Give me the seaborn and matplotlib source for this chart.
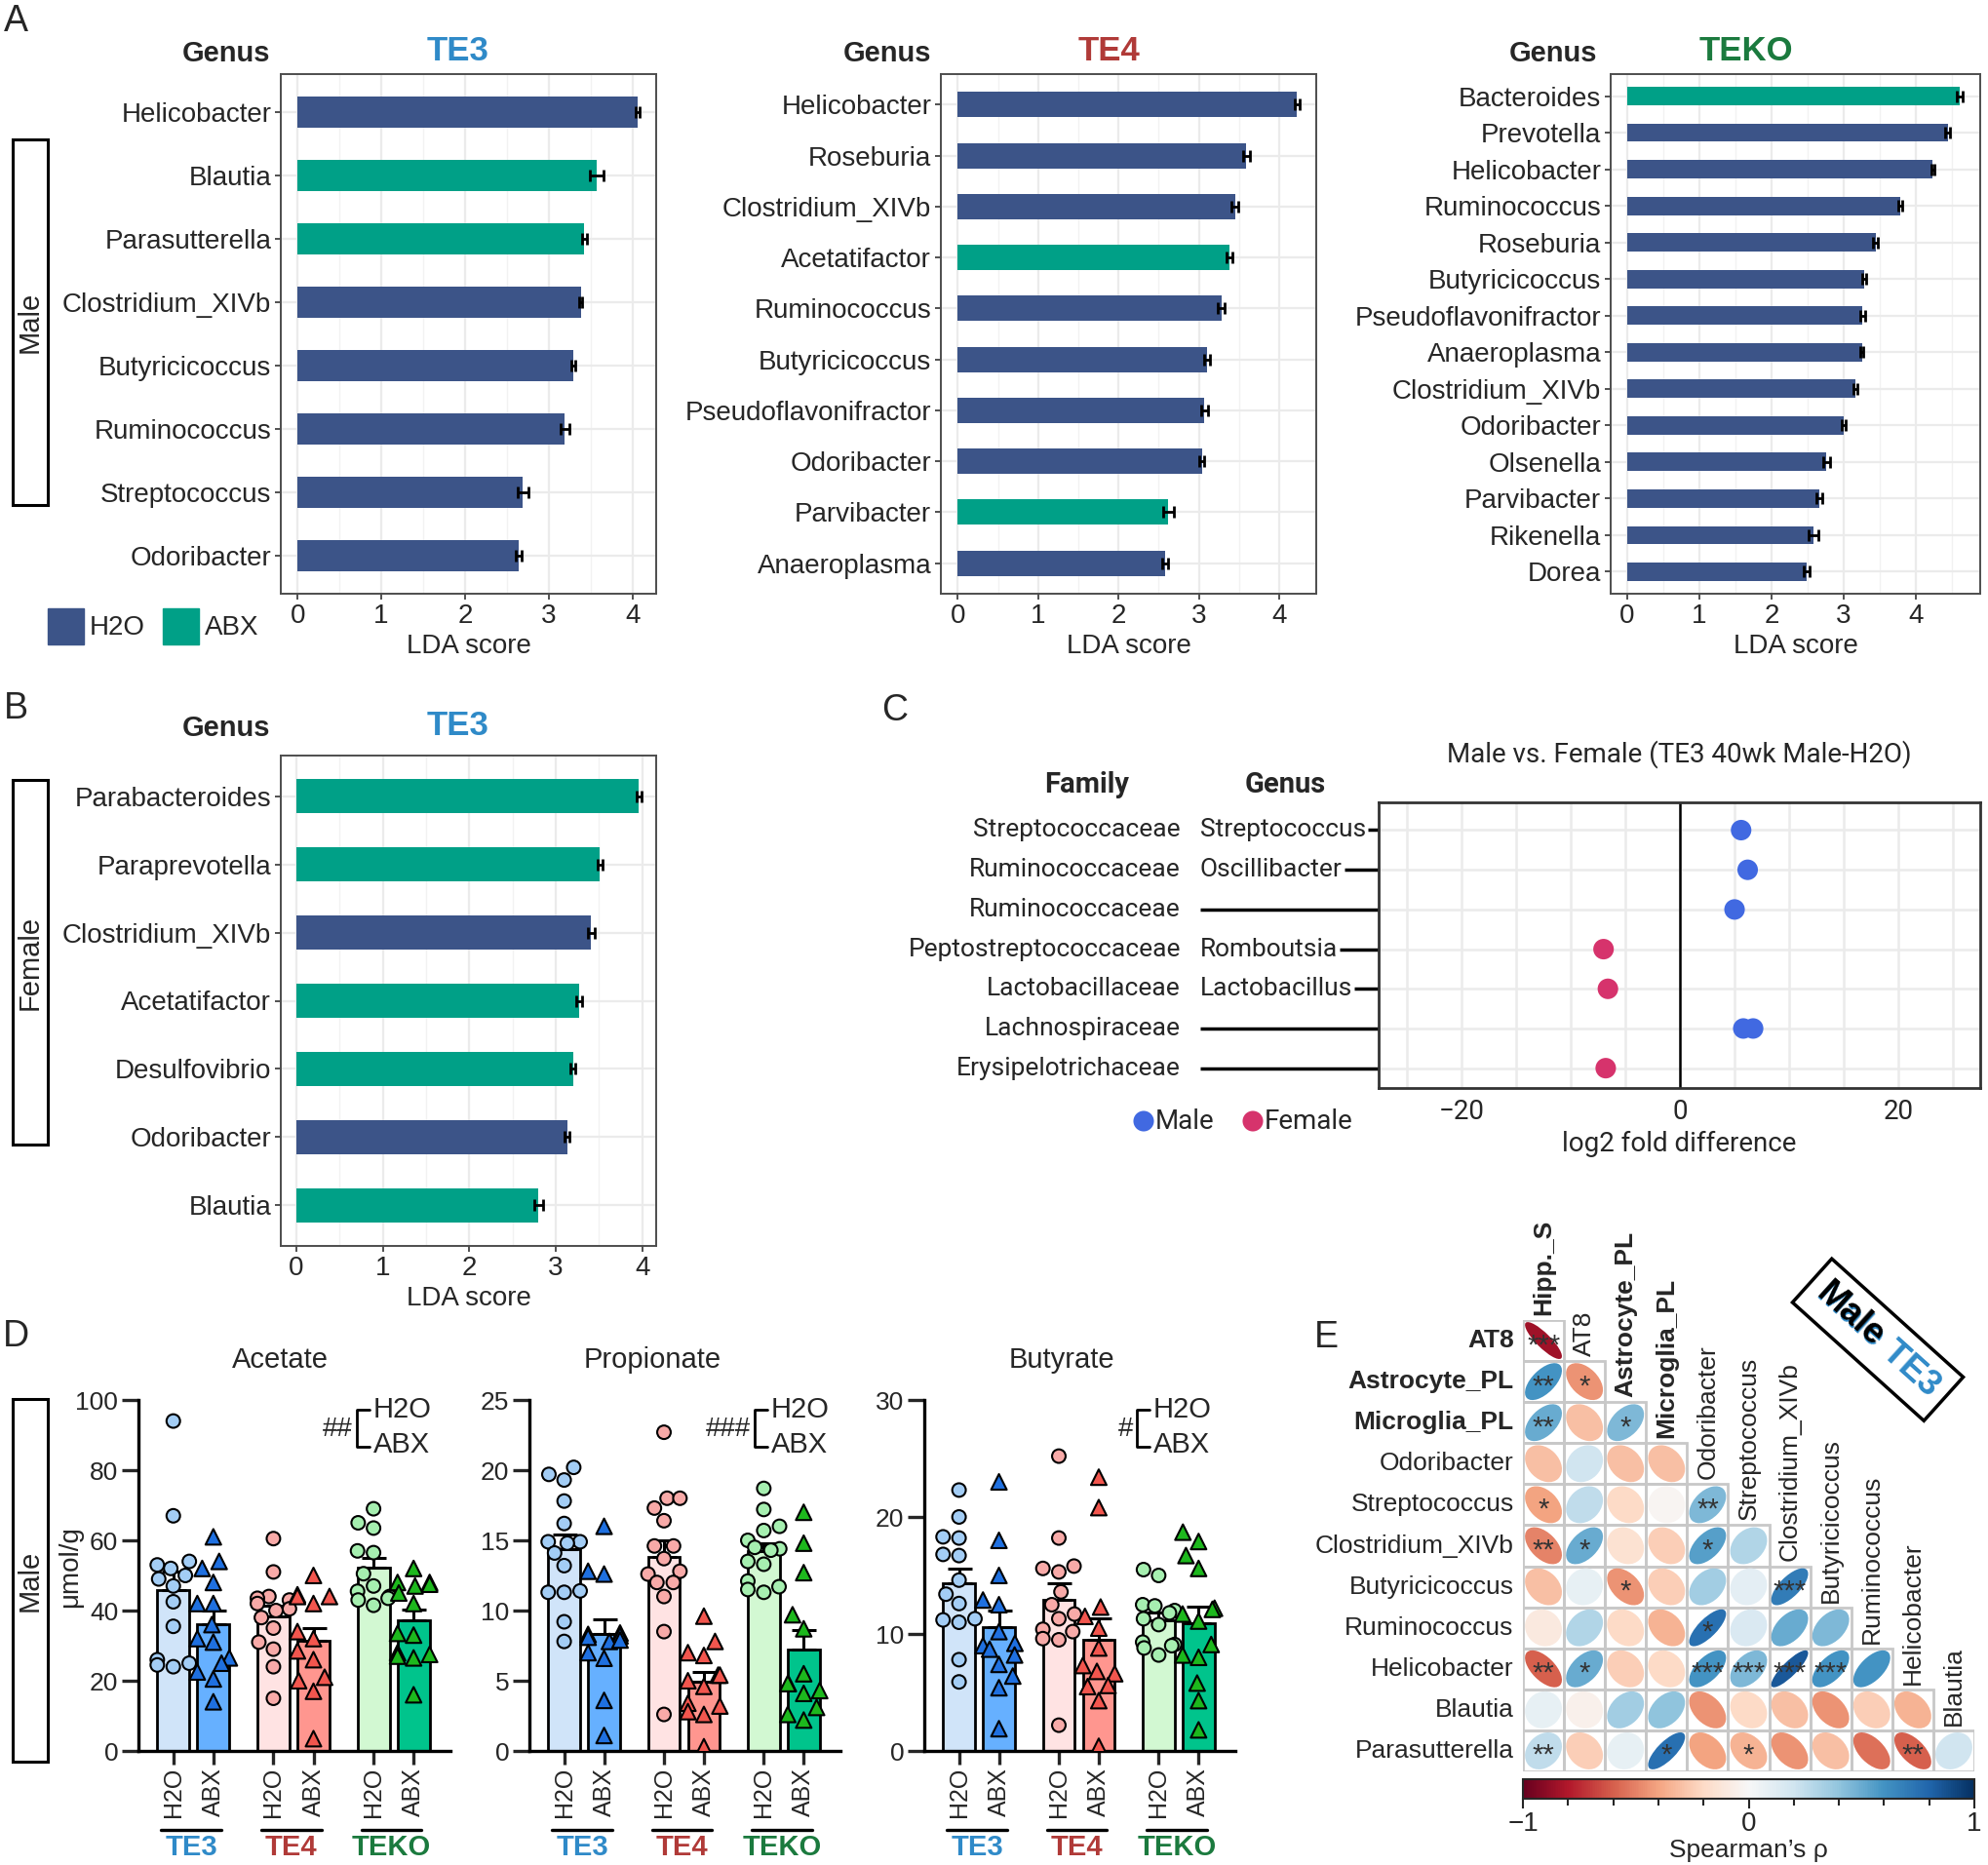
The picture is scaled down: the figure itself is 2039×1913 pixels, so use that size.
import numpy as np
import pandas as pd
import seaborn as sns
import matplotlib.pyplot as plt
from matplotlib.patches import Rectangle, Ellipse
from matplotlib.colors import Normalize
from matplotlib.cm import ScalarMappable
from matplotlib.ticker import MultipleLocator
from matplotlib.transforms import blended_transform_factory

# ---------------- A / B : LEfSe LDA scores ----------------
te3_genus = ["Helicobacter", "Blautia", "Parasutterella", "Clostridium_XIVb",
             "Butyricicoccus", "Ruminococcus", "Streptococcus", "Odoribacter"]
te3_lda = [4.06, 3.57, 3.42, 3.38, 3.29, 3.19, 2.69, 2.64]
te3_err = [0.02, 0.08, 0.03, 0.02, 0.02, 0.05, 0.06, 0.04]
te3_grp = ["H2O", "ABX", "ABX", "H2O", "H2O", "H2O", "H2O", "H2O"]

te4_genus = ["Helicobacter", "Roseburia", "Clostridium_XIVb", "Acetatifactor", "Ruminococcus",
             "Butyricicoccus", "Pseudoflavonifractor", "Odoribacter", "Parvibacter", "Anaeroplasma"]
te4_lda = [4.22, 3.59, 3.45, 3.38, 3.28, 3.10, 3.07, 3.04, 2.62, 2.58]
te4_err = [0.03, 0.04, 0.04, 0.04, 0.04, 0.04, 0.04, 0.03, 0.07, 0.04]
te4_grp = ["H2O", "H2O", "H2O", "ABX", "H2O", "H2O", "H2O", "H2O", "ABX", "H2O"]

teko_genus = ["Bacteroides", "Prevotella", "Helicobacter", "Ruminococcus", "Roseburia",
              "Butyricicoccus", "Pseudoflavonifractor", "Anaeroplasma", "Clostridium_XIVb",
              "Odoribacter", "Olsenella", "Parvibacter", "Rikenella", "Dorea"]
teko_lda = [4.61, 4.44, 4.23, 3.78, 3.44, 3.28, 3.26, 3.25, 3.16, 3.00, 2.76, 2.66, 2.58, 2.49]
teko_err = [0.04, 0.03, 0.02, 0.03, 0.03, 0.03, 0.03, 0.02, 0.03, 0.03, 0.05, 0.04, 0.07, 0.04]
teko_grp = ["ABX"] + ["H2O"] * 13

fem_genus = ["Parabacteroides", "Paraprevotella", "Clostridium_XIVb", "Acetatifactor",
             "Desulfovibrio", "Odoribacter", "Blautia"]
fem_lda = [3.96, 3.51, 3.41, 3.27, 3.20, 3.13, 2.80]
fem_err = [0.03, 0.03, 0.04, 0.03, 0.03, 0.03, 0.05]
fem_grp = ["ABX", "ABX", "H2O", "ABX", "ABX", "H2O", "ABX"]

# ---------------- C : male vs female ----------------
c_family = ["Streptococcaceae", "Ruminococcaceae", "Ruminococcaceae", "Peptostreptococcaceae",
            "Lactobacillaceae", "Lachnospiraceae", "Erysipelotrichaceae"]
c_genus = ["Streptococcus", "Oscillibacter", "", "Romboutsia", "Lactobacillus", "", ""]
c_row = [0, 1, 2, 3, 4, 5, 5, 6]
c_lfc = [5.6, 6.2, 5.0, -7.0, -6.6, 5.8, 6.7, -6.8]
c_sex = ["Male", "Male", "Male", "Female", "Female", "Male", "Male", "Female"]

# ---------------- D : SCFA (umol/g) ----------------
d_groups = ["TE3 H2O", "TE3 ABX", "TE4 H2O", "TE4 ABX", "TEKO H2O", "TEKO ABX"]
ace = [
    [94, 67, 54, 53, 52, 50, 49, 47, 42.5, 35.5, 26, 25, 24, 24.5],
    [61, 54, 52, 48, 42, 42, 36, 32, 31, 26.5, 25, 22.5, 20.5, 14],
    [60.5, 51, 44, 43.5, 43, 42, 40.5, 40, 38, 35, 31, 29, 24, 15],
    [50, 44.5, 44, 44, 42, 34, 32, 28.5, 26, 21, 20, 17, 3.5],
    [69, 65, 63.5, 57, 56.5, 50.5, 47, 45.5, 44, 43.5, 43, 41.5],
    [52, 48, 48, 47.5, 47, 45, 42, 33.5, 33, 28, 27.5, 27, 26.5, 16],
]
pro = [
    [20.2, 19.7, 19.3, 17.8, 16.2, 14.9, 14.9, 14.8, 14.1, 13.2, 11.4, 11.3, 11.3, 9.2, 7.8],
    [16, 12.8, 12.6, 8.4, 8.3, 8.2, 8.1, 7.8, 7.9, 7, 6.6, 3.6, 1.1],
    [22.7, 18, 18, 17.3, 16.4, 14.6, 14.6, 13.7, 12.8, 12.6, 12, 12, 11, 8.5, 2.6],
    [9.6, 7.8, 7, 6.8, 5.4, 5.4, 5, 4.6, 3.4, 3.2, 2.8, 2.6, 0.3],
    [18.7, 17.2, 16, 15.7, 15, 14.5, 14.4, 14.3, 13.5, 13.3, 12.1, 11.7, 11.5, 11.3],
    [17, 14.8, 12.7, 9.7, 8.7, 5.5, 4.8, 4.8, 4.1, 4.3, 3.1, 2.6, 2.2],
]
but = [
    [22.3, 20, 18.3, 18.2, 16.8, 16.7, 14.6, 13.4, 12.6, 11.2, 11.3, 11, 7.8, 5.9],
    [23, 18, 15, 12.9, 12.5, 10.2, 9.2, 9, 8.7, 8.2, 7.4, 6.4, 5.4, 1.9],
    [25.2, 18.2, 15.8, 15.6, 15.3, 13.6, 12.5, 11.7, 11.3, 10.4, 10.2, 9.6, 9.5, 2.2],
    [23.4, 20.8, 12.3, 11.5, 10.5, 8.8, 7.3, 6.6, 6.8, 5.5, 5.6, 4.3, 0.4],
    [15.5, 15, 12.5, 12.4, 12.0, 11.8, 11.3, 10.8, 9.3, 9.1, 9.0, 8.8, 8.2],
    [18.7, 17.9, 16.7, 15.6, 12.2, 12.1, 11.7, 11.1, 9.1, 8.2, 8, 5.8, 4.3, 1.8],
]

# ---------------- E : Spearman correlations ----------------
e_vars = ["Hipp._S", "AT8", "Astrocyte_PL", "Microglia_PL", "Odoribacter", "Streptococcus",
          "Clostridium_XIVb", "Butyricicoccus", "Ruminococcus", "Helicobacter", "Blautia",
          "Parasutterella"]
e_rho = [
    [-0.85],
    [0.60, -0.45],
    [0.50, -0.30, 0.45],
    [-0.30, 0.20, -0.30, -0.30],
    [-0.40, 0.25, -0.20, -0.02, 0.45],
    [-0.50, 0.50, -0.15, -0.25, 0.55, 0.30],
    [-0.30, 0.08, -0.45, -0.25, 0.35, 0.10, 0.70],
    [-0.10, 0.30, -0.20, -0.35, 0.75, 0.15, 0.50, 0.45],
    [-0.60, 0.50, -0.25, -0.20, 0.60, 0.45, 0.85, 0.60, 0.60],
    [0.08, -0.05, 0.35, 0.40, -0.45, -0.20, -0.30, -0.45, -0.25, -0.35],
    [0.25, -0.25, 0.08, 0.75, -0.40, -0.35, -0.45, -0.30, -0.55, -0.60, 0.20],
]
e_sig = [
    ["***"],
    ["**", "*"],
    ["**", "", "*"],
    ["", "", "", ""],
    ["*", "", "", "", "**"],
    ["**", "*", "", "", "*", ""],
    ["", "", "*", "", "", "", "***"],
    ["", "", "", "", "*", "", "", ""],
    ["**", "*", "", "", "***", "***", "***", "***", ""],
    ["", "", "", "", "", "", "", "", "", ""],
    ["**", "", "", "*", "", "*", "", "", "", "**", ""],
]

# ---------------- style ----------------
sns.set_style("white")
plt.rcParams["font.family"] = ["Liberation Sans", "DejaVu Sans"]
NARROW = ["Roboto", "Liberation Sans"]

lda_pal = {"H2O": "#3C5488", "ABX": "#00A087"}
bar_pal = {"TE3 H2O": "#D0E4F9", "TE3 ABX": "#66B0FF", "TE4 H2O": "#FFE3E3",
           "TE4 ABX": "#FF968F", "TEKO H2O": "#D2F8D2", "TEKO ABX": "#00C48C"}
pt_pal = {"TE3 H2O": "#A3CDF5", "TE3 ABX": "#1F70E0", "TE4 H2O": "#F8AAA8",
          "TE4 ABX": "#F2564E", "TEKO H2O": "#A6EFB0", "TEKO ABX": "#1DB81D"}
sex_pal = {"Male": "#4169E1", "Female": "#D6336C"}
geno_col = {"TE3": "#2F8AC8", "TE4": "#B03A38", "TEKO": "#1B7A3E"}

W, H = 2040, 1913
fig = plt.figure(figsize=(W / 100, H / 100), dpi=100)


def pax(x0, y0, x1, y1):
    return fig.add_axes([x0 / W, 1 - y1 / H, (x1 - x0) / W, (y1 - y0) / H])


ov = fig.add_axes([0, 0, 1, 1])
ov.set_xlim(0, W)
ov.set_ylim(H, 0)
ov.axis("off")
ov.set_zorder(10)


def lda_panel(ax, genus, lda, err, grp, xlim):
    df = pd.DataFrame({"genus": genus, "lda": lda, "grp": grp})
    ax.set_axisbelow(True)
    sns.barplot(data=df, x="lda", y="genus", hue="grp", palette=lda_pal, dodge=False,
                width=0.5, orient="h", legend=False, saturation=1, linewidth=0, ax=ax)
    ax.errorbar(lda, np.arange(len(genus)), xerr=err, fmt="none", ecolor="black",
                elinewidth=2, capsize=4, capthick=2, zorder=4)
    ax.set_xlim(*xlim)
    ax.set_ylim(len(genus) - 0.4, -0.6)
    ax.set_xticks([0, 1, 2, 3, 4])
    ax.xaxis.set_minor_locator(MultipleLocator(0.5))
    ax.grid(True, which="major", color="#EBEBEB", lw=1.6)
    ax.grid(True, which="minor", axis="x", color="#F2F2F2", lw=1.0)
    ax.tick_params(axis="both", which="major", length=4, width=1.2, color="#333333",
                   labelsize=20, pad=3, left=True, bottom=True)
    ax.tick_params(which="minor", length=0)
    for s in ax.spines.values():
        s.set_color("#4D4D4D")
        s.set_linewidth(1.4)
    ax.set_ylabel("")
    ax.set_xlabel("LDA score", fontsize=20, labelpad=4)


lda_panel(pax(288, 76, 673, 609), te3_genus, te3_lda, te3_err, te3_grp, (-0.2, 4.28))
lda_panel(pax(965, 76, 1350, 609), te4_genus, te4_lda, te4_err, te4_grp, (-0.21, 4.46))
lda_panel(pax(1652, 76, 2031, 609), teko_genus, teko_lda, teko_err, teko_grp, (-0.23, 4.89))
lda_panel(pax(288, 775, 673, 1278), fem_genus, fem_lda, fem_err, fem_grp, (-0.18, 4.16))

for gx, tx, ty, name in [(277, 470, 55, "TE3"), (955, 1138, 55, "TE4"),
                         (1638, 1791, 55, "TEKO"), (277, 470, 747, "TE3")]:
    ov.text(gx, ty, "Genus", ha="right", va="center", fontsize=21, weight="bold")
    ov.text(tx, ty - 2, name, ha="center", va="center", fontsize=25, weight="bold",
            color=geno_col[name])

# legend of panel A
for x0, key in [(49, "H2O"), (167, "ABX")]:
    ov.add_patch(Rectangle((x0, 624), 37, 37, color=lda_pal[key]))
    ov.text(x0 + 43, 644, key, ha="left", va="center", fontsize=20)

# side boxes
for (y0, y1, lab) in [(143, 518, "Male"), (800, 1174, "Female"), (1435, 1807, "Male")]:
    ov.add_patch(Rectangle((13, y0), 36, y1 - y0, fill=False, ec="black", lw=2.2))
    ov.text(31, (y0 + y1) / 2, lab, rotation=90, ha="center", va="center", fontsize=21)

for lab, x, y in [("A", 16, 22), ("B", 16, 727), ("C", 918, 729), ("D", 16, 1371), ("E", 1360, 1372)]:
    ov.text(x, y, lab, ha="center", va="center", fontsize=27)

# ---------------- C ----------------
axc = pax(1414, 823, 2031, 1116)
dfc = pd.DataFrame({"row": c_row, "lfc": c_lfc, "sex": c_sex})
axc.set_axisbelow(True)
sns.scatterplot(data=dfc, x="lfc", y="row", hue="sex", palette=sex_pal, s=230,
                edgecolor="none", legend=False, ax=axc, zorder=3)
axc.axvline(0, color="black", lw=1.8, zorder=2)
axc.set_xlim(-27.6, 27.5)
axc.set_ylim(6.5, -0.7)
axc.set_xticks([-20, 0, 20])
axc.set_xticklabels(["\u221220", "0", "20"], family=NARROW)
axc.xaxis.set_minor_locator(MultipleLocator(5))
axc.set_yticks(range(len(c_family)))
axc.set_yticklabels([])
axc.grid(True, which="both", color="#EBEBEB", lw=1.8)
axc.tick_params(axis="x", labelsize=20, length=0, pad=8)
axc.tick_params(axis="y", length=0)
axc.tick_params(which="minor", length=0)
for s in axc.spines.values():
    s.set_color("#333333")
    s.set_linewidth(2)
axc.set_ylabel("")
axc.set_xlabel("log2 fold difference", fontsize=20, family=NARROW, labelpad=4)
axc.set_title("Male vs. Female (TE3 40wk Male-H2O)", fontsize=20, family=NARROW, pad=30)

ytr = axc.get_yaxis_transform()
fam_x = (1211 - 1414) / 617
gen_x = (1231 - 1414) / 617
renderer = fig.canvas.get_renderer()
for i, (fam, gen) in enumerate(zip(c_family, c_genus)):
    axc.text(fam_x, i, fam, transform=ytr, ha="right", va="center", fontsize=19, family=NARROW)
    start = gen_x
    if gen:
        t = axc.text(gen_x, i, gen, transform=ytr, ha="left", va="center", fontsize=19,
                     family=NARROW)
        bb = t.get_window_extent(renderer)
        start = axc.transAxes.inverted().transform((bb.x1 + 2, 0))[0]
    axc.plot([start, 0], [i, i], transform=ytr, color="black", lw=2.5, clip_on=False,
             solid_capstyle="butt")
ov.text(1115, 805, "Family", ha="center", va="center", fontsize=21, weight="bold", family=NARROW)
ov.text(1318, 805, "Genus", ha="center", va="center", fontsize=21, weight="bold", family=NARROW)
for x0, key in [(1173, "Male"), (1285, "Female")]:
    ov.scatter([x0], [1150], s=230, color=sex_pal[key], edgecolor="none")
    ov.text(x0 + 12, 1150, key, ha="left", va="center", fontsize=20, family=NARROW)

# ---------------- D ----------------
d_pos = [0, 1, 2.5, 3.5, 5, 6]


def scfa_panel(ax, values, ymax, step, title, title_x, hashes, bx):
    rows = []
    for g, p, vals in zip(d_groups, d_pos, values):
        for v in vals:
            rows.append({"group": g, "pos": p, "treat": g.split()[1], "value": v})
    df = pd.DataFrame(rows)
    sns.barplot(data=df, x="pos", y="value", hue="group", palette=bar_pal, native_scale=True,
                errorbar=None, width=0.8, dodge=False, saturation=1, edgecolor="black",
                linewidth=2, legend=False, ax=ax, zorder=1)
    stats = df.groupby("pos")["value"].agg(["mean", "sem"])
    ax.errorbar(stats.index, stats["mean"], yerr=[np.zeros(len(stats)), stats["sem"]],
                fmt="none", ecolor="black", elinewidth=2.2, capsize=9, capthick=2.2, zorder=3)
    # circles for H2O, triangles for ABX; the other treatment's rows are blanked so the
    # swarm width stays on the same 1-unit native scale as the bars
    for treat, mk, sz in [("H2O", "o", 10), ("ABX", "^", 11.5)]:
        sub = df.copy()
        sub.loc[sub["treat"] != treat, "value"] = np.nan
        sns.swarmplot(data=sub, x="pos", y="value", hue="group", palette=pt_pal,
                      native_scale=True, marker=mk, size=sz, linewidth=1.5,
                      edgecolor="black", legend=False, ax=ax, zorder=4, warn_thresh=1)
    ax.set_xlim(-0.87, 6.92)
    ax.set_ylim(0, ymax)
    ax.set_yticks(np.arange(0, ymax + 0.1, step))
    ax.set_xticks(d_pos)
    ax.set_xticklabels(["H2O", "ABX"] * 3, rotation=90, fontsize=18)
    ax.set_xlabel("")
    ax.set_ylabel("")
    for s in ["top", "right"]:
        ax.spines[s].set_visible(False)
    for s in ["left", "bottom"]:
        ax.spines[s].set_linewidth(2.4)
        ax.spines[s].set_color("black")
    ax.tick_params(axis="y", labelsize=19, length=12, pad=3)
    ax.tick_params(axis="x", length=10, pad=2)
    ax.tick_params(axis="both", width=2.4, left=True, bottom=True)
    ax.patch.set_alpha(0)
    # genotype underlines
    btr = blended_transform_factory(ax.transData, ov.transData)
    for p, name in zip([0, 2.5, 5], ["TE3", "TE4", "TEKO"]):
        ax.plot([p - 0.3, p + 1.2], [1877, 1877], transform=btr, color="black", lw=2.4,
                clip_on=False)
        ax.text(p + 0.45, 1895, name, transform=btr, ha="center", va="center", fontsize=21,
                weight="bold", color=geno_col[name])
    ov.text(title_x, 1395, title, ha="center", va="center", fontsize=21)
    # significance bracket
    ov.text(bx - 4, 1466, hashes, ha="right", va="center", fontsize=20)
    ov.plot([bx + 13, bx, bx, bx + 13], [1446, 1446, 1484, 1484], color="black", lw=2)
    ov.text(bx + 17, 1446, "H2O", ha="left", va="center", fontsize=21)
    ov.text(bx + 17, 1482, "ABX", ha="left", va="center", fontsize=21)


scfa_panel(pax(142, 1436, 462, 1796), ace, 100, 20, "Acetate", 287, "##", 366)
scfa_panel(pax(543, 1436, 862, 1796), pro, 25, 5, "Propionate", 669, "###", 774)
scfa_panel(pax(948, 1436, 1267, 1796), but, 30, 10, "Butyrate", 1089, "#", 1166)
ov.text(72, 1607, "\u03bcmol/g", rotation=90, ha="center", va="center", fontsize=20)

# ---------------- E ----------------
axe = pax(1562, 1354, 2025, 1817)
axe.set_xlim(0, 11)
axe.set_ylim(11, 0)
axe.axis("off")
cmap = plt.get_cmap("RdBu")
norm = Normalize(-1, 1)
for i, (rrow, srow) in enumerate(zip(e_rho, e_sig)):
    for j, (r, sig) in enumerate(zip(rrow, srow)):
        axe.add_patch(Rectangle((j, i), 1, 1, fill=False, ec="#C8C8C8", lw=2))
        axe.add_patch(Ellipse((j + 0.5, i + 0.5), width=0.9 * np.sqrt(1 + abs(r)),
                              height=0.9 * np.sqrt(1 - abs(r)), angle=-45 if r > 0 else 45,
                              color=cmap(norm(r)), lw=0))
        if sig:
            axe.text(j + 0.5, i + 0.62, sig, ha="center", va="center", fontsize=21,
                     color="#333333")
bold_vars = {"Hipp._S", "Astrocyte_PL", "Microglia_PL"}
for i, name in enumerate(e_vars[1:]):
    axe.text(-0.22, i + 0.5, name, ha="right", va="center", fontsize=19,
             weight="bold" if name in bold_vars | {"AT8"} else "normal")
for j, name in enumerate(e_vars[:-1]):
    axe.text(j + 0.5, j - 0.12, name, rotation=90, rotation_mode="anchor", ha="left",
             va="center", fontsize=19, weight="bold" if name in bold_vars else "normal")

cax = pax(1562, 1825, 2025, 1845)
cb = fig.colorbar(ScalarMappable(norm=norm, cmap=cmap), cax=cax, orientation="horizontal")
cb.set_ticks([-1, 0, 1])
cb.set_ticklabels(["\u22121", "0", "1"])
cax.xaxis.set_minor_locator(MultipleLocator(0.2))
cax.tick_params(which="major", length=7, width=1.5, labelsize=20, pad=2, bottom=True)
cax.tick_params(which="minor", length=5, width=1.5, bottom=True)
cb.outline.set_linewidth(1.5)
cb.set_label("Spearman\u2019s \u03c1", fontsize=19, labelpad=2)

# rotated "Male TE3" tag
ang = -42
x0, y0 = 1868, 1322
ov.text(x0, y0, "Male TE3", rotation=ang, rotation_mode="anchor", ha="left", va="center",
        fontsize=26, weight="bold", color=geno_col["TE3"],
        bbox=dict(boxstyle="square,pad=0.35", fc="white", ec="black", lw=2.5))
ov.text(x0, y0, "Male", rotation=ang, rotation_mode="anchor", ha="left", va="center",
        fontsize=26, weight="bold", color="black")

fig.savefig("out.png", dpi=100)
